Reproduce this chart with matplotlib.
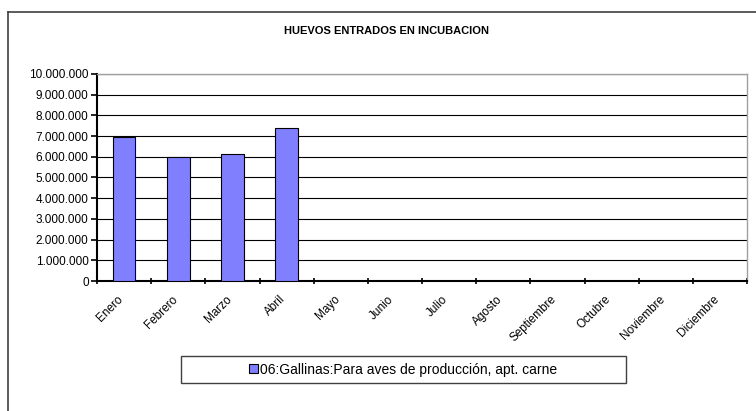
import matplotlib.pyplot as plt
from matplotlib.patches import Rectangle
from matplotlib.lines import Line2D
from matplotlib.ticker import FuncFormatter
from matplotlib.transforms import ScaledTranslation
import numpy as np

plt.rcParams["font.family"] = ["Liberation Sans", "DejaVu Sans"]

months = ["Enero", "Febrero", "Marzo", "Abril", "Mayo", "Junio", "Julio",
          "Agosto", "Septiembre", "Octubre", "Noviembre", "Diciembre"]
values = [6960000, 6000000, 6150000, 7380000, 0, 0, 0, 0, 0, 0, 0, 0]
series_name = "06:Gallinas:Para aves de producción, apt. carne"
title = "HUEVOS ENTRADOS EN INCUBACION"

W, H = 756, 411
fig = plt.figure(figsize=(W / 100, H / 100), dpi=100)
ax = fig.add_axes([97 / W, 1 - 281 / H, 650 / W, 207 / H])

x = np.arange(len(months))
bars = ax.bar(x, values, width=0.42, color="#8080FF", edgecolor="black",
              linewidth=0.8, label=series_name, zorder=3)

ax.set_xlim(-0.5, len(months) - 0.5)
ax.set_ylim(0, 10000000)
ax.set_yticks(np.arange(0, 10000001, 1000000))
ax.yaxis.set_major_formatter(FuncFormatter(lambda v, p: f"{int(v):,}".replace(",", ".")))
ax.grid(axis="y", color="black", linewidth=0.8, zorder=0)

# ticks at category boundaries, labels at centres
ax.set_xticks(np.arange(-0.5, len(months), 1.0))
ax.set_xticklabels([])
ax.set_xticks(x, minor=True)
ax.set_xticklabels(months, minor=True, rotation=45, ha="right",
                   rotation_mode="anchor", fontsize=8.5)
ax.tick_params(axis="x", which="minor", length=0, pad=9)
ax.tick_params(axis="x", which="major", length=4, width=1.2, direction="inout", color="black")
ax.tick_params(axis="y", length=4, width=1.2, direction="out", labelsize=8.5, pad=2)

shift = ScaledTranslation(-7 / 100, 0, fig.dpi_scale_trans)
for lbl in ax.get_xticklabels(minor=True):
    lbl.set_transform(lbl.get_transform() + shift)

for s in ["top", "right"]:
    ax.spines[s].set_color("#a0a0a0")
    ax.spines[s].set_linewidth(1.0)
ax.spines["left"].set_linewidth(1.5)
ax.spines["bottom"].set_linewidth(1.5)

fig.text(387 / W, 1 - 31 / H, title, ha="center", va="center",
         fontsize=8, fontweight="bold")

# outer chart border (left and top edges visible)
fig.add_artist(Line2D([8 / W, 8 / W], [0, 1 - 12 / H], color="#404040", linewidth=1.2))
fig.add_artist(Line2D([8 / W, 1], [1 - 12 / H, 1 - 12 / H], color="#404040", linewidth=1.2))

# legend box
fig.add_artist(Rectangle((181 / W, 1 - 383 / H), 445 / W, 27 / H, transform=fig.transFigure,
                         fill=False, edgecolor="#404040", linewidth=1.0))
fig.legend(handles=[bars], labels=[series_name], loc="center",
           bbox_to_anchor=(403 / W, 1 - 369.5 / H), frameon=False, fontsize=10,
           handlelength=0.6, handleheight=0.6, handletextpad=0.15)

fig.savefig("out.png", dpi=100)
